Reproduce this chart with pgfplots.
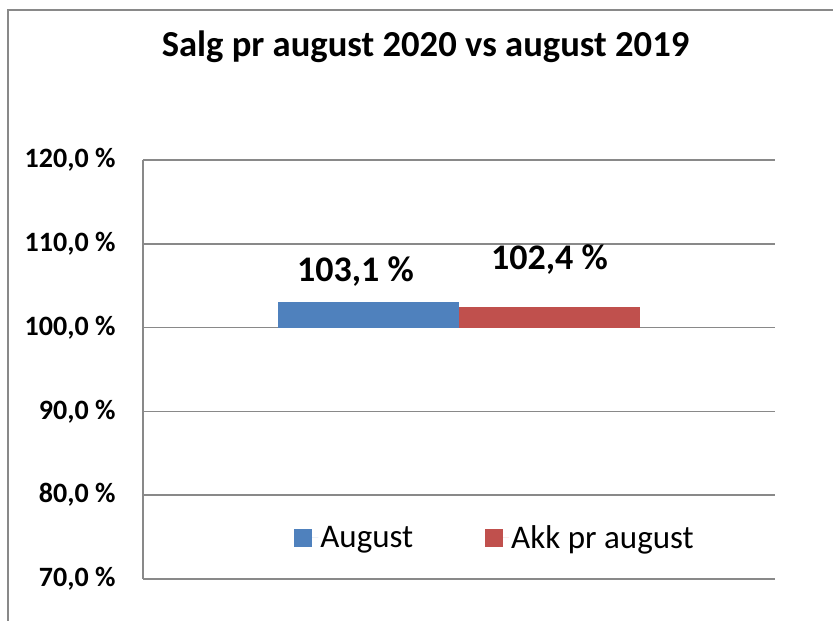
\documentclass[border=0pt]{standalone}
\usepackage{pgfplots}
\pgfplotsset{compat=1.18}
\usepackage{fontspec}
\setmainfont{Carlito}
\definecolor{cblue}{HTML}{4F81BD}
\definecolor{cred}{HTML}{C0504D}
\definecolor{cgrid}{HTML}{898989}
\begin{document}
\begin{tikzpicture}
\useasboundingbox (0pt,0pt) rectangle (833pt,621pt);
\draw[cgrid, line width=2pt] (8pt,0pt) -- (8pt,611pt) -- (833pt,611pt);
\node[font=\fontsize{36.6}{42}\selectfont\bfseries] at (425.5pt,574pt) {Salg pr august 2020 vs august 2019};
\begin{axis}[
  at={(143pt,42pt)}, anchor=south west,
  scale only axis, width=632pt, height=419pt,
  xmin=-1, xmax=1, ymin=70, ymax=120,
  y coord trafo/.code={\pgfmathparse{#1-100}},
  y coord inv trafo/.code={\pgfmathparse{#1+100}},
  ytick={70,80,90,100,110,120},
  yticklabels={{70,0 \%},{80,0 \%},{90,0 \%},{100,0 \%},{110,0 \%},{120,0 \%}},
  yticklabel style={font=\fontsize{28}{32}\selectfont\bfseries, xshift=-24pt},
  xtick=\empty,
  major tick length=0pt,
  axis x line*=bottom, axis y line*=left,
  axis line style={cgrid, line width=1.5pt},
  ymajorgrids, major grid style={cgrid, line width=1.5pt},
  ybar=0pt, bar width=181pt,
  clip=false,
  legend style={at={(0.557,0.098)}, anchor=center, draw=none, fill=none,
    font=\fontsize{33}{37}\selectfont, legend columns=2,
    /tikz/every even column/.append style={column sep=70pt}},
  legend image code/.code={\path (0pt,0pt) -- (24pt,0pt); \fill[#1] (0pt,-9pt) rectangle (18pt,9pt);},
]
\addplot[fill=cblue, draw=none, nodes near coords, point meta=explicit symbolic,
  every node near coord/.append style={font=\fontsize{36}{40}\selectfont\bfseries, anchor=center, xshift=-13pt, yshift=30pt}]
  coordinates {(0,103.1) [103,1 \%]};
\addplot[fill=cred, draw=none, nodes near coords, point meta=explicit symbolic,
  every node near coord/.append style={font=\fontsize{36}{40}\selectfont\bfseries, anchor=center, xshift=0pt, yshift=48pt}]
  coordinates {(0,102.4) [102,4 \%]};
\legend{August, Akk pr august}
\end{axis}
\end{tikzpicture}
\end{document}
